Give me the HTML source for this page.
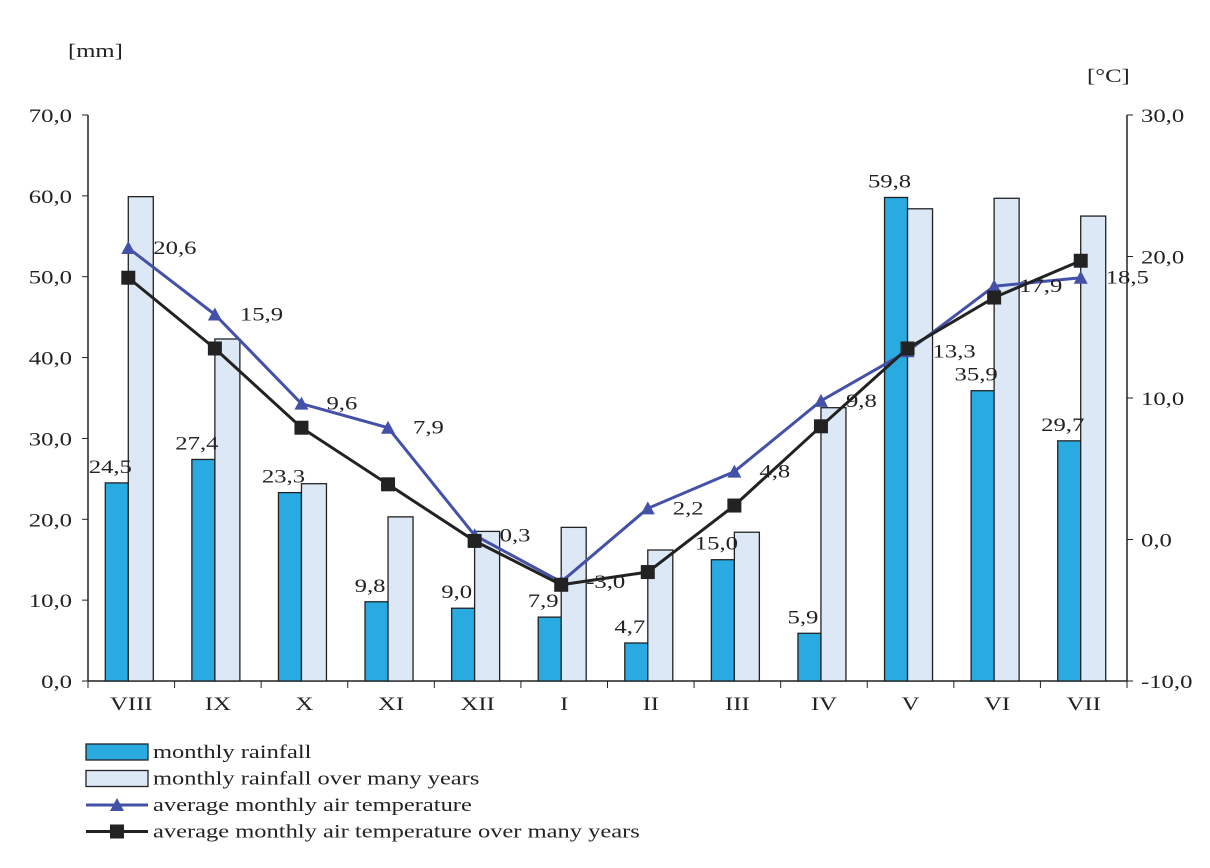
<!DOCTYPE html>
<html><head><meta charset="utf-8"><style>
body{margin:0;background:#fff}
svg text{font-family:"Liberation Serif",serif;fill:#222}
</style></head><body>
<svg id="c" width="1210" height="863" xmlns="http://www.w3.org/2000/svg"></svg>
<script>
const months=["VIII","IX","X","XI","XII","I","II","III","IV","V","VI","VII"];
const rain=[24.5,27.4,23.3,9.8,9.0,7.9,4.7,15.0,5.9,59.8,35.9,29.7];
const rainLong=[59.9,42.3,24.4,20.3,18.5,19.0,16.2,18.4,33.8,58.4,59.7,57.5];
const temp=[20.6,15.9,9.6,7.9,0.3,-3.0,2.2,4.8,9.8,13.3,17.9,18.5];
const tempLong=[18.5,13.5,7.9,3.9,-0.1,-3.2,-2.3,2.4,8.0,13.5,17.1,19.7];
const leftTicks=[0,10,20,30,40,50,60,70];
const rightTicks=[-10,0,10,20,30];
const NS="http://www.w3.org/2000/svg",svg=document.getElementById('c');
const X0=88,X1=1127,Y0=681,Y1=115;
const bw=(X1-X0)/12;
const cx=i=>X0+bw*(i+0.5)-3;
const yL=v=>Y0-(v/70)*(Y0-Y1);
const yR=v=>Y0-((v+10)/40)*(Y0-Y1);
const fmt=v=>v.toFixed(1).replace('.',',');
function el(t,a,txt){const e=document.createElementNS(NS,t);for(const k in a)e.setAttribute(k,a[k]);if(txt!=null)e.textContent=txt;svg.appendChild(e);return e;}
function tx(x,y,s,anchor,sx){return el('text',{x:0,y:0,transform:`translate(${x},${y}) scale(${sx||1.3},1)`,'text-anchor':anchor||'start','font-size':19},s);}
let e=el('line',{x1:X0,y1:Y1,x2:X0,y2:Y0,stroke:'#222','stroke-width':1.5});

e=el('line',{x1:X1,y1:Y1,x2:X1,y2:Y0,stroke:'#222','stroke-width':1.5});

e=el('line',{x1:X0,y1:Y0,x2:X1,y2:Y0,stroke:'#222','stroke-width':1.5});

leftTicks.forEach(v=>{el('line',{x1:X0-6,x2:X0,y1:yL(v),y2:yL(v),stroke:'#222'});
 e=tx(X0-16,yL(v)+7,fmt(v),'end');
 });
rightTicks.forEach(v=>{el('line',{x1:X1,x2:X1+6,y1:yR(v),y2:yR(v),stroke:'#222'});
 e=tx(X1+14,yR(v)+7,fmt(v));
 });
for(let i=0;i<=12;i++)el('line',{x1:X0+bw*i,x2:X0+bw*i,y1:Y0,y2:Y0+7,stroke:'#222'});
e=tx(68,57,'[mm]');
e=tx(1087,82,'[°C]');
months.forEach((m,i)=>{
 e=el('rect',{x:cx(i)-23,y:yL(rain[i]),width:23,height:Y0-yL(rain[i]),fill:'#29abe2',stroke:'#222','stroke-width':1.3});
 
 e=el('rect',{x:cx(i),y:yL(rainLong[i]),width:25,height:Y0-yL(rainLong[i]),fill:'#dde8f6',stroke:'#222','stroke-width':1.3});
 
 e=tx(cx(i)-18,yL(rain[i])-10,fmt(rain[i]),'middle');
 
 e=tx(X0+bw*(i+0.5),Y0+29,m,'middle');
 
});
e=el('polyline',{points:temp.map((v,i)=>cx(i)+','+yR(v)).join(' '),fill:'none',stroke:'#4451a8','stroke-width':3});

e=el('polyline',{points:tempLong.map((v,i)=>cx(i)+','+yR(v)).join(' '),fill:'none',stroke:'#222','stroke-width':3});

temp.forEach((v,i)=>{const x=cx(i),y=yR(v);
 e=el('polygon',{points:`${x-7},${y+6} ${x+7},${y+6} ${x},${y-7}`,fill:'#4451a8'});
 
 e=tx(x+25,y+6,fmt(v));
 });
tempLong.forEach((v,i)=>{const x=cx(i),y=yR(v);
 e=el('rect',{x:x-7,y:y-7,width:14,height:14,fill:'#222'});
 });
const L=[['monthly rainfall','bar','#29abe2'],['monthly rainfall over many years','bar','#dde8f6'],['average monthly air temperature','tri','#4451a8'],['average monthly air temperature over many years','sq','#222']];
L.forEach((l,k)=>{const y=752+k*26.5;
 if(l[1]=='bar'){e=el('rect',{x:86,y:y-8,width:62,height:16,fill:l[2],stroke:'#222','stroke-width':1.3});}
 else{el('line',{x1:86,x2:148,y1:y,y2:y,stroke:l[2],'stroke-width':3});
  e=l[1]=='tri'?el('polygon',{points:`110,${y+6} 124,${y+6} 117,${y-7}`,fill:l[2]}):el('rect',{x:110,y:y-7,width:14,height:14,fill:l[2]});}
 
 e=tx(153,y+6,l[0],'start',1.29);
 });
</script>
</body></html>
